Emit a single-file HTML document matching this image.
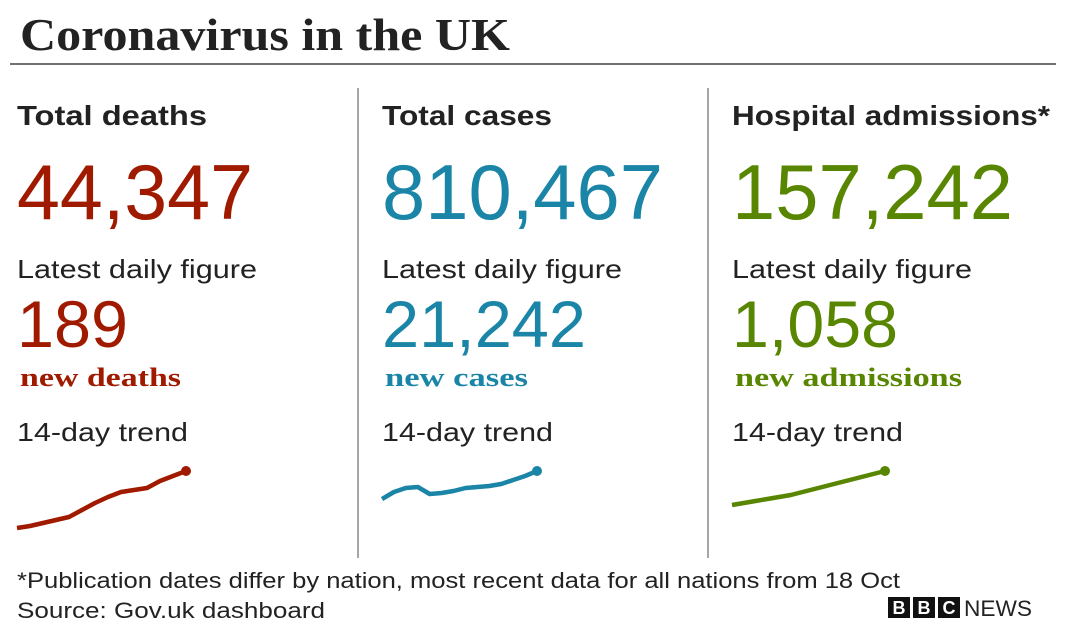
<!DOCTYPE html>
<html><head><meta charset="utf-8"><style>
html,body{margin:0;padding:0;background:#fff;}
svg{display:block}
text{font-family:"Liberation Sans",sans-serif;fill:#222}
.serif{font-family:"Liberation Serif",serif}
</style></head><body>
<svg id="chart" width="1066" height="633" viewBox="0 0 1066 633">
<text class="serif" x="20" y="50" font-size="46" font-weight="bold" textLength="490" lengthAdjust="spacingAndGlyphs">Coronavirus in the UK</text>
<line x1="10" y1="64" x2="1056" y2="64" stroke="#444" stroke-width="1.5"/>
<line x1="358" y1="88" x2="358" y2="558" stroke="#888" stroke-width="1.5"/>
<line x1="708" y1="88" x2="708" y2="558" stroke="#888" stroke-width="1.5"/>
<g id="panels"></g>
<text x="17" y="588" font-size="22" textLength="883" lengthAdjust="spacingAndGlyphs">*Publication dates differ by nation, most recent data for all nations from 18 Oct</text>
<text x="17" y="618" font-size="22" textLength="308" lengthAdjust="spacingAndGlyphs">Source: Gov.uk dashboard</text>
<g>
<rect x="888" y="597" width="22" height="21" fill="#111"/><text x="899" y="614" font-size="18" font-weight="bold" text-anchor="middle" style="fill:#fff">B</text>
<rect x="913" y="597" width="22" height="21" fill="#111"/><text x="924" y="614" font-size="18" font-weight="bold" text-anchor="middle" style="fill:#fff">B</text>
<rect x="938" y="597" width="22" height="21" fill="#111"/><text x="949" y="614" font-size="18" font-weight="bold" text-anchor="middle" style="fill:#fff">C</text>
<text x="964" y="616" font-size="22" textLength="68" lengthAdjust="spacingAndGlyphs">NEWS</text>
</g>
</svg>
<script>
const deathsTrend=[0,2,5,8,11,18,25,31,36,38,40,47,52,57];
const casesTrend=[1,8,12,13,6,7,9,12,13,14,16,20,24,29];
const admissionsTrend=[0,2,4,6,8,10,13,16,19,22,25,28,31,34];
const panels=[
 {x:17,head:"Total deaths",hw:190,total:"44,347",tw:236,daily:"189",dw:111,unit:"new deaths",uw:161,color:"#a01a00",trend:deathsTrend,sx:17,sw:169,base:528,name:"deaths"},
 {x:382,head:"Total cases",hw:170,total:"810,467",tw:281,daily:"21,242",dw:204,unit:"new cases",uw:143,color:"#1a85a6",trend:casesTrend,sx:382,sw:155,base:500,name:"cases"},
 {x:732,head:"Hospital admissions*",hw:318,total:"157,242",tw:281,daily:"1,058",dw:166,unit:"new admissions",uw:227,color:"#588600",trend:admissionsTrend,sx:732,sw:153,base:505,name:"admissions"}
];
const NS="http://www.w3.org/2000/svg";
const g=document.getElementById('panels');
function t(x,y,s,size,w,opts,name){
 const e=document.createElementNS(NS,'text');
 e.setAttribute('x',x);e.setAttribute('y',y);e.setAttribute('font-size',size);
 e.setAttribute('textLength',w);e.setAttribute('lengthAdjust','spacingAndGlyphs');
 if(opts.bold)e.setAttribute('font-weight','bold');
 if(opts.serif)e.setAttribute('class','serif');
 if(opts.color)e.style.fill=opts.color;
 e.textContent=s;
 
 
 g.appendChild(e);return e;
}
panels.forEach(p=>{
 t(p.x,125,p.head,28,p.hw,{bold:true},p.name+'-heading');
 t(p.x,219,p.total,78,p.tw,{color:p.color},p.name+'-total');
 t(p.x,278,"Latest daily figure",26,240,{},p.name+'-latest-label');
 t(p.x,347,p.daily,66,p.dw,{color:p.color},p.name+'-daily-value');
 t(p.x+3,386,p.unit,26,p.uw,{color:p.color,serif:true,bold:true},p.name+'-daily-unit');
 t(p.x,441,"14-day trend",26,171,{},p.name+'-trend-label');
 const n=p.trend.length;
 const xs=i=>p.sx+i*p.sw/(n-1);
 const ys=v=>p.base-v;
 const pts=p.trend.map((v,i)=>xs(i).toFixed(1)+','+ys(v).toFixed(1)).join(' ');
 const pl=document.createElementNS(NS,'polyline');
 pl.setAttribute('points',pts);pl.setAttribute('fill','none');pl.setAttribute('stroke',p.color);
 pl.setAttribute('stroke-width','4.5');pl.setAttribute('stroke-linejoin','round');
 
 
 g.appendChild(pl);
 const c=document.createElementNS(NS,'circle');
 c.setAttribute('cx',xs(n-1));c.setAttribute('cy',ys(p.trend[n-1]));c.setAttribute('r','5');c.setAttribute('fill',p.color);
 
 
 g.appendChild(c);
});
</script>
</body></html>
